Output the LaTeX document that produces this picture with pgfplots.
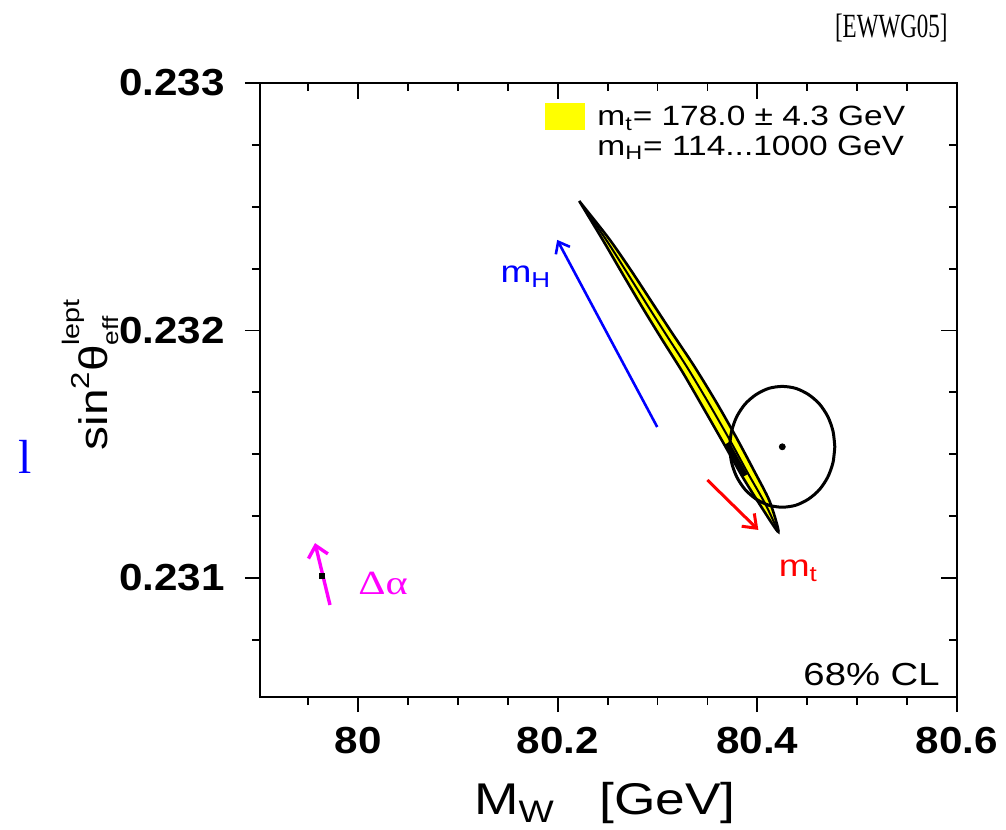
\documentclass[border=0pt]{standalone}
\usepackage{pgfplots}
\pgfplotsset{compat=1.18}
\usetikzlibrary{arrows.meta}
\usepackage{fontspec}
\setmainfont[FakeStretch=1.2]{Liberation Sans}
\newfontfamily\tickfont[FakeStretch=1.12]{Liberation Sans}
\newfontfamily\ewfont[FakeStretch=0.68]{Liberation Serif}
\newfontfamily\greekfont[FakeStretch=1.25]{Liberation Serif}
\newfontfamily\plainserif{Liberation Serif}
\definecolor{mhblue}{RGB}{0,0,255}
\definecolor{mtred}{RGB}{255,0,0}
\definecolor{mag}{RGB}{255,0,255}
\definecolor{band}{RGB}{255,255,0}
\begin{document}
\begin{tikzpicture}
\pgfplotsset{
 common/.style={
  scale only axis, width=348.5bp, height=307bp,
  xmin=79.9018, xmax=80.6, ymin=0.230519, ymax=0.233,
  xtick={80,80.2,80.4,80.6}, ytick={0.231,0.232,0.233},
  minor xtick={79.95,80.05,80.1,80.15,80.25,80.3,80.35,80.45,80.5,80.55},
  minor ytick={0.23075,0.23125,0.2315,0.23175,0.23225,0.2325,0.23275},
  scaled ticks=false,
  axis line style={line width=1bp},
  tick style={line width=0.9bp, black},
  major tick length=7.5bp, minor tick length=4bp,
 }
}
\begin{axis}[common, name=ax, tick align=outside, xtick pos=left, ytick pos=left,
  /pgf/number format/assume math mode=true,
  tick label style={font=\tickfont\bfseries\fontsize{18.9}{22}\selectfont, inner sep=0pt},
  xticklabel style={anchor=north, yshift=-7.5bp},
  yticklabel style={anchor=east, xshift=-10bp, /pgf/number format/fixed, /pgf/number format/precision=3},
  xlabel={M\textsubscript{W}\ \ \ [GeV]},
  xlabel style={at={(axis description cs:0.495,-0.192)}, anchor=base, font=\fontsize{22.3}{26}\selectfont, inner sep=0pt},
  ylabel={sin\raisebox{0.45em}{\fontsize{13}{15}\selectfont 2}θ\rlap{\raisebox{0.7em}{\fontsize{12}{14}\selectfont lept}}\raisebox{-0.3em}{\fontsize{11}{13}\selectfont eff}},
  ylabel style={at={(axis description cs:-0.2195,0.5106)}, anchor=base, font=\fontsize{20}{24}\selectfont, inner sep=0pt},
]
% SM band (outline: left edge down, right edge up)
\addplot[fill=band, draw=black, line width=1.3bp, smooth, tension=0.45] coordinates {
(80.2216,0.232523) (80.2460,0.232360) (80.2658,0.232223) (80.2850,0.232092)
(80.3037,0.231969) (80.3252,0.231831) (80.3469,0.231680) (80.3669,0.231539)
(80.3854,0.231407) (80.4037,0.231289) (80.4211,0.231186)
(80.4123,0.231310) (80.3966,0.231434) (80.3789,0.231568) (80.3589,0.231710)
(80.3364,0.231858) (80.3139,0.231994) (80.2944,0.232114) (80.2736,0.232242)
(80.2512,0.232372) (80.2216,0.232523)};
\addplot[black, line width=1bp, smooth, tension=0.45] coordinates {
(80.2216,0.232523) (80.2486,0.232366) (80.2697,0.232232) (80.2897,0.232103)
(80.3088,0.231982) (80.3308,0.231844) (80.3529,0.231695) (80.3729,0.231554)
(80.3910,0.231420) (80.4080,0.231299) (80.4211,0.231186)};
\addplot[black, line width=2.5bp] coordinates {(80.3699,0.231545) (80.3880,0.231414)};
% 68% CL ellipse
\addplot[black, line width=1.5bp, smooth] coordinates {
(80.4776,0.231530) (80.4758,0.231593) (80.4706,0.231652) (80.4622,0.231703)
(80.4513,0.231741) (80.4386,0.231766) (80.4250,0.231774) (80.4114,0.231766)
(80.3987,0.231741) (80.3878,0.231703) (80.3794,0.231652) (80.3742,0.231593)
(80.3724,0.231530) (80.3742,0.231467) (80.3794,0.231408) (80.3878,0.231357)
(80.3987,0.231319) (80.4114,0.231294) (80.4250,0.231286) (80.4386,0.231294)
(80.4513,0.231319) (80.4622,0.231357) (80.4706,0.231408) (80.4758,0.231467)
(80.4776,0.231530)};
\addplot[only marks, mark=*, mark size=1.5bp, black] coordinates {(80.425,0.23153)};
% arrows
\addplot[mhblue, line width=1.3bp, -{Straight Barb[length=5bp, width=8bp]}] coordinates {(80.2997,0.231610) (80.1995,0.232366)};
\addplot[mtred, line width=1.5bp, -{Straight Barb[length=6bp, width=9bp]}] coordinates {(80.3499,0.231396) (80.4010,0.231194)};
\addplot[mag, line width=1.7bp, -{Straight Barb[length=5.5bp, width=10bp]}] coordinates {(79.9719,0.230891) (79.9569,0.231141)};
\addplot[only marks, mark=square*, mark size=1.3bp, black] coordinates {(79.9639,0.231008)};
% labels
\node[mhblue, anchor=base west, font=\fontsize{15.5}{18}\selectfont, inner sep=0pt] at (axis cs:80.1424,0.232192) {m\textsubscript{H}};
\node[mtred, anchor=base west, font=\fontsize{15.5}{18}\selectfont, inner sep=0pt] at (axis cs:80.4211,0.231004) {m\textsubscript{t}};
\node[mag, font=\greekfont\fontsize{17}{20}\selectfont, inner sep=0pt] at (axis cs:80.025,0.230976) {Δα};
% legend
\fill[band] (axis description cs:0.4089,0.9235) rectangle (axis description cs:0.4663,0.9674);
\node[anchor=base west, font=\fontsize{14}{17}\selectfont, inner sep=0pt] at (axis description cs:0.4835,0.930) {m\textsubscript{t}= 178.0 ± 4.3 GeV};
\node[anchor=base west, font=\fontsize{14}{17}\selectfont, inner sep=0pt] at (axis description cs:0.4835,0.8827) {m\textsubscript{H}= 114...1000 GeV};
\node[anchor=base east, font=\fontsize{16}{19}\selectfont, inner sep=0pt] at (axis description cs:0.9756,0.0195) {68\% CL};
\end{axis}
\begin{axis}[common, tick align=inside, xtick pos=right, ytick pos=right,
  xticklabels={}, yticklabels={}, major tick length=8bp]
\end{axis}
\node[anchor=east, font=\ewfont\fontsize{17}{20}\selectfont, inner sep=0pt] at ([shift={(-4.5bp,27.5bp)}]ax.north east) {[EWWG05]};
\node[mhblue, font=\plainserif\fontsize{24}{28}\selectfont, inner sep=0pt] at ([shift={(-117.5bp,120bp)}]ax.south west) {l};
\path ([shift={(-130bp,-66bp)}]ax.south west) rectangle ([shift={(24.5bp,41.5bp)}]ax.north east);
\end{tikzpicture}
\end{document}
